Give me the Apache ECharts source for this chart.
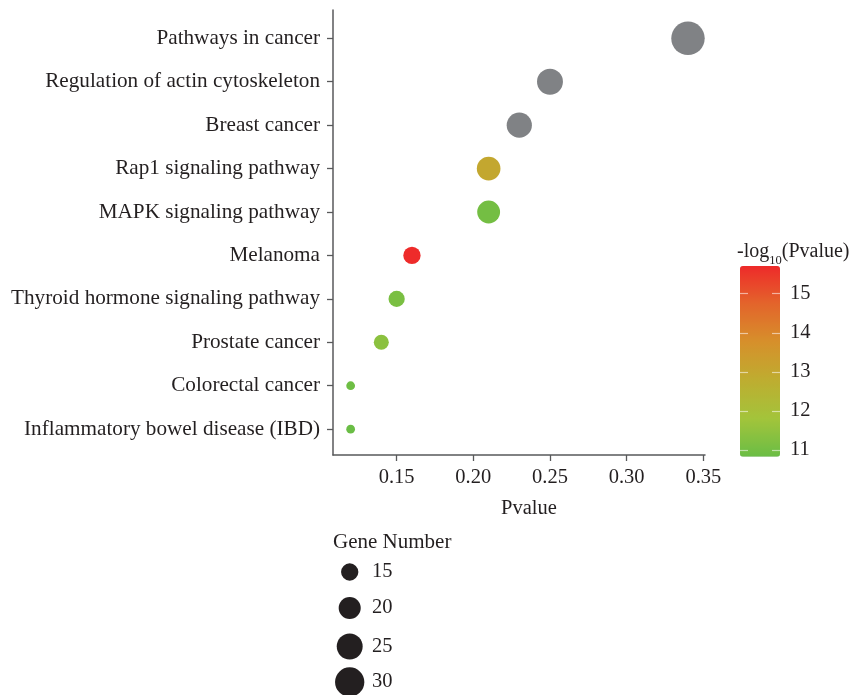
<!DOCTYPE html>
<html>
<head>
<meta charset="utf-8">
<script src="https://cdn.jsdelivr.net/npm/echarts@6/dist/echarts.min.js"></script>
<style>html,body{margin:0;padding:0;background:#fff}#c{width:862px;height:695px}</style>
</head>
<body>
<div id="c"></div>
<script>
// ---- data ----
var categories = ['Pathways in cancer','Regulation of actin cytoskeleton','Breast cancer','Rap1 signaling pathway','MAPK signaling pathway','Melanoma','Thyroid hormone signaling pathway','Prostate cancer','Colorectal cancer','Inflammatory bowel disease (IBD)'];
var pvalues = [0.34,0.25,0.23,0.21,0.21,0.16,0.15,0.14,0.12,0.12];
var geneNumbers = [37,25,24,22,21,15,14,13,9,9];
var negLog10P = [null,null,null,13.0,11.0,15.7,11.1,11.4,10.9,10.83];
var xTicks = [0.15,0.20,0.25,0.30,0.35];
var colorTicks = [11,12,13,14,15];
var sizeLegendValues = [15,20,25,30];

// ---- styling ----
var FONT = 'Liberation Serif';
var FS = 20.5;
var FSY = 21.2;
var TXT = '#231f20';
var AX = '#58595b';
function sz(n){ return Math.sqrt(Math.max(37.2*n - 258, 16)); }

var colored = [], gray = [];
categories.forEach(function(c,i){
  var item = [pvalues[i], i, geneNumbers[i], negLog10P[i]];
  if (negLog10P[i] == null) gray.push(item); else colored.push(item);
});

var series = [
  {type:'scatter', name:'colored', xAxisIndex:0, yAxisIndex:0, data:colored,
   symbolSize:function(v){return sz(v[2]);}, encode:{x:0,y:1}, itemStyle:{opacity:1}, z:3},
  {type:'scatter', name:'na', xAxisIndex:0, yAxisIndex:0, data:gray,
   symbolSize:function(v){return sz(v[2]);}, encode:{x:0,y:1}, itemStyle:{color:'#808285',opacity:1}, z:3}
];
var legends = [];
var legCenters = [572, 608, 646.5, 682];
sizeLegendValues.forEach(function(n,k){
  var d = sz(n);
  var h = Math.max(d, 21);
  series.push({type:'scatter', name:String(n), data:[], itemStyle:{color:TXT, opacity:1}, xAxisIndex:0, yAxisIndex:0});
  legends.push({
    data:[String(n)], icon:'circle', itemWidth:d, itemHeight:d, padding:0,
    left:349.7 - d/2, top:legCenters[k] - h/2, selectedMode:false,
    itemStyle:{color:TXT, opacity:1},
    textStyle:{fontFamily:FONT, fontSize:FS, color:TXT, lineHeight:21,
      padding:[0,0,0, 372 - (349.7 + d/2 + 5)]}
  });
});

var option = {
  animation:false,
  backgroundColor:'#fff',
  textStyle:{fontFamily:FONT},
  title:[
    {text:'Gene Number', left:333, top:532, padding:0,
     textStyle:{fontFamily:FONT, fontSize:21, fontWeight:'normal', color:TXT}},
    {text:'{a|-log}{s|10}{a|(Pvalue)}', left:737, top:238, padding:0,
     textStyle:{fontWeight:'normal', rich:{
       a:{fontFamily:FONT, fontSize:20, fontWeight:'normal', color:TXT, lineHeight:24, verticalAlign:'bottom'},
       s:{fontFamily:FONT, fontSize:12.5, fontWeight:'normal', color:TXT, lineHeight:24, verticalAlign:'bottom', padding:[0,0,-5,0]}
     }}}
  ],
  legend:legends,
  grid:[
    {left:333, top:10, width:372, height:445, containLabel:false},
    {left:740, top:266, width:40, height:190.7, containLabel:false}
  ],
  xAxis:[
    {type:'value', gridIndex:0, min:0.1085, max:0.3511,
     axisLine:{show:true, onZero:false, lineStyle:{color:AX, width:1.5}},
     axisTick:{show:true, length:6, lineStyle:{color:AX, width:1.3}, customValues:xTicks},
     axisLabel:{customValues:xTicks, formatter:function(v){return v.toFixed(2);}, fontFamily:FONT, fontSize:FS, color:TXT, margin:12},
     splitLine:{show:false},
     name:'Pvalue', nameLocation:'middle', nameGap:43,
     nameTextStyle:{fontFamily:FONT, fontSize:FS, color:TXT, padding:[0,0,0,20]}},
    {type:'value', gridIndex:1, min:0, max:1, show:false}
  ],
  yAxis:[
    {type:'value', gridIndex:0, inverse:true, min:-0.652, max:9.595,
     axisLine:{show:true, onZero:false, lineStyle:{color:AX, width:1.5}},
     axisTick:{show:true, length:6, lineStyle:{color:AX, width:1.3}, customValues:categories.map(function(c,i){return i;})},
     axisLabel:{customValues:categories.map(function(c,i){return i;}), formatter:function(v){return categories[Math.round(v)];}, fontFamily:FONT, fontSize:FSY, color:TXT, margin:13},
     splitLine:{show:false}},
    {type:'value', gridIndex:1, min:10.83, max:15.71, position:'right', z:10,
     axisLine:{show:false, onZero:false},
     axisTick:{show:true, inside:true, length:8, lineStyle:{color:'rgba(255,255,255,0.55)', width:1.2}, customValues:colorTicks},
     axisLabel:{customValues:colorTicks, fontFamily:FONT, fontSize:FS, color:TXT, margin:10},
     splitLine:{show:false}},
    {type:'value', gridIndex:1, min:10.83, max:15.71, position:'left', z:10,
     axisLine:{show:false, onZero:false},
     axisTick:{show:true, inside:true, length:8, lineStyle:{color:'rgba(255,255,255,0.55)', width:1.2}, customValues:colorTicks},
     axisLabel:{show:false},
     splitLine:{show:false}}
  ],
  visualMap:[{
    type:'continuous', seriesIndex:0, dimension:3, min:10.83, max:15.71,
    left:740, top:266, itemWidth:40, itemHeight:190.7, padding:0,
    calculable:false, realtime:false, showLabel:false, text:null, hoverLink:false,
    inRange:{color:['#6abd45','#a3c43b','#bead30','#d6902b','#e3652b','#ee2a2a']}
  }],
  series:series
};
var chart = echarts.init(document.getElementById('c'), null, {renderer:'canvas'});
chart.setOption(option);
</script>
</body>
</html>
